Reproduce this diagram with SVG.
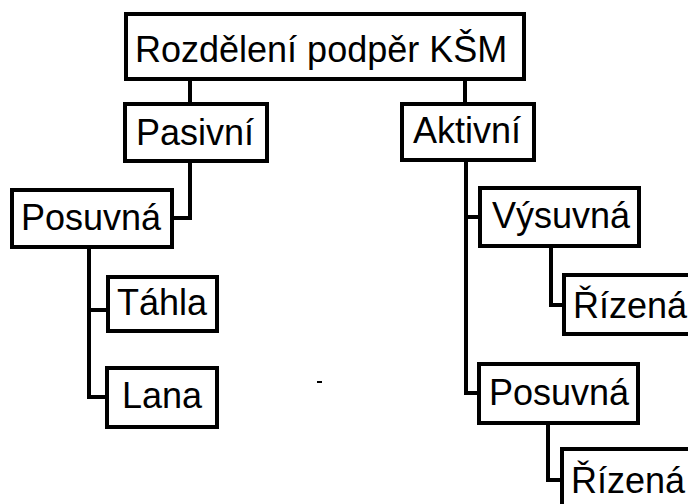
<svg xmlns="http://www.w3.org/2000/svg" width="688" height="504" viewBox="0 0 688 504">
<style>
.box{fill:#fff;stroke:#000;stroke-width:4}
.lbl{font-family:"Liberation Sans",Arial,sans-serif;font-size:36px;fill:#000}
.c{fill:none;stroke:#000;stroke-width:4}
</style>
<rect width="688" height="504" fill="#fff"/>
<g id="connectors">
<path class="c" d="M190,79 V104"/>
<path class="c" d="M465,79 V104"/>
<path class="c" d="M190,161 V218 H173"/>
<path class="c" d="M89,247 V397 H108"/>
<path class="c" d="M89,310 H108"/>
<path class="c" d="M466,160 V393 H479"/>
<path class="c" d="M466,217 H480"/>
<path class="c" d="M551,246 V305 H564"/>
<path class="c" d="M548,423 V480 H562"/>
</g>
<g id="root"><rect class="box" x="126" y="14" width="398" height="65"/><text class="lbl" x="135" y="62">Rozdělení podpěr KŠM</text></g>
<g id="pasivni"><rect class="box" x="125" y="104" width="142" height="57"/><text class="lbl" x="136" y="145">Pasivní</text></g>
<g id="aktivni"><rect class="box" x="402" y="104" width="132" height="56"/><text class="lbl" x="413" y="143">Aktivní</text></g>
<g id="posuvna-l"><rect class="box" x="12" y="190" width="160" height="57"/><text class="lbl" x="21" y="230">Posuvná</text></g>
<g id="tahla"><rect class="box" x="108" y="277" width="109" height="54"/><text class="lbl" x="117" y="315">Táhla</text></g>
<g id="lana"><rect class="box" x="107" y="368" width="110" height="59"/><text class="lbl" x="122" y="408">Lana</text></g>
<g id="vysuvna"><rect class="box" x="480" y="188" width="159" height="58"/><text class="lbl" x="492" y="228">Výsuvná</text></g>
<g id="rizena1"><rect class="box" x="564" y="275" width="140" height="59"/><text class="lbl" x="573" y="318">Řízená</text></g>
<g id="posuvna-r"><rect class="box" x="479" y="364" width="159" height="59"/><text class="lbl" x="489" y="405">Posuvná</text></g>
<g id="rizena2"><rect class="box" x="562" y="449" width="140" height="70"/><text class="lbl" x="571" y="493">Řízená</text></g>
<rect x="317" y="381" width="5" height="2" fill="#000"/>
</svg>
